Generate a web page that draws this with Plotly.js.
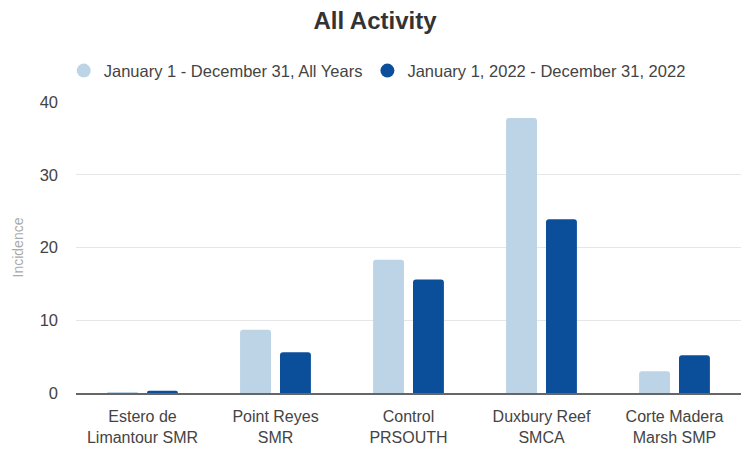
<!DOCTYPE html>
<html>
<head>
<meta charset="utf-8">
<script src="https://cdn.plot.ly/plotly-3.0.1.min.js"></script>
<style>html,body{margin:0;padding:0;background:#fff;}#chart{width:750px;height:451px;}</style>
</head>
<body>
<div id="chart"></div>
<script>
const categories = ["Estero de<br>Limantour SMR", "Point Reyes<br>SMR", "Control<br>PRSOUTH", "Duxbury Reef<br>SMCA", "Corte Madera<br>Marsh SMP"];
const seriesNames = ["January 1 - December 31, All Years", "January 1, 2022 - December 31, 2022"];
const allYears = [0.15, 8.7, 18.3, 37.8, 3.0];
const year2022 = [0.3, 5.6, 15.6, 23.9, 5.2];
const colors = ["#bcd4e5", "#0b4f9b"];
const yTicks = [0, 10, 20, 30, 40];

const series = [allYears, year2022];
const data = [];
series.forEach((vals, i) => {
  data.push({
    type: "bar", x: categories, y: vals, name: seriesNames[i],
    marker: {color: colors[i], cornerradius: 3}, showlegend: false, hoverinfo: "y"
  });
});
series.forEach((vals, i) => {
  data.push({
    type: "scatter", mode: "markers", x: categories, y: vals.map(() => null),
    name: seriesNames[i], marker: {color: colors[i], size: 14, symbol: "circle"},
    showlegend: true, hoverinfo: "skip"
  });
});

const layout = {
  width: 750, height: 451,
  margin: {l: 76, r: 9, t: 102, b: 58},
  paper_bgcolor: "#fff", plot_bgcolor: "#fff",
  font: {family: "Liberation Sans, Arial, sans-serif", color: "#444", size: 14},
  title: {text: "<b>All Activity</b>", x: 0.5, xanchor: "center", y: 0.955, yanchor: "middle",
          font: {size: 24, color: "#333", family: "Liberation Sans, Arial, sans-serif"}},
  barmode: "group", bargap: 0.4, bargroupgap: 0.225,
  legend: {orientation: "h", x: 0.453, xanchor: "center", y: 1.107, yanchor: "middle",
           font: {size: 16.5, color: "#444"}, itemwidth: 30, traceorder: "normal"},
  xaxis: {type: "category", tickfont: {size: 16, color: "#444"}, showgrid: false,
          showline: true, linecolor: "#666", linewidth: 1.5, ticks: "", ticklabelstandoff: 8,
          fixedrange: true},
  yaxis: {range: [0, 40], tickvals: yTicks, ticktext: yTicks.map(String),
          gridcolor: "#e6e6e6", gridwidth: 1, zeroline: false, showline: false,
          tickfont: {size: 16.5, color: "#444"}, ticks: "", ticklabelstandoff: 17,
          title: {text: "Incidence", font: {size: 14, color: "#aaa"}, standoff: 12}}
};

Plotly.newPlot("chart", data, layout, {displayModeBar: false, staticPlot: true});
</script>
</body>
</html>
